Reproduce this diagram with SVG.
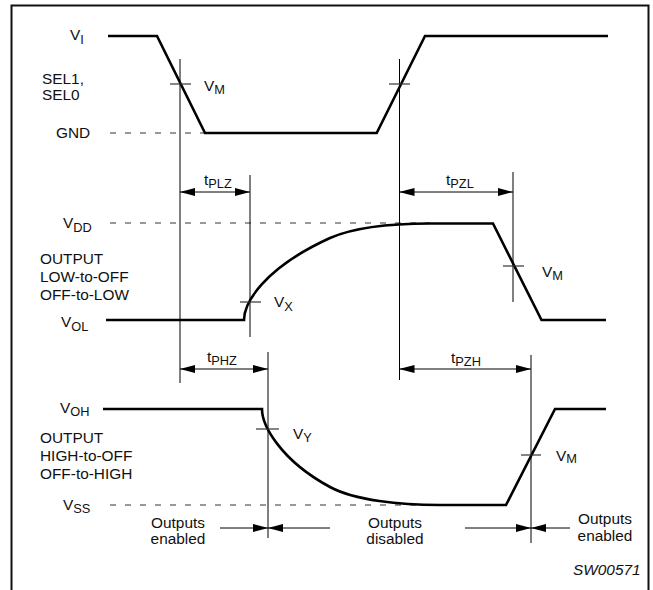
<svg xmlns="http://www.w3.org/2000/svg" width="653" height="590" viewBox="0 0 653 590">
<defs>
<marker id="ah" viewBox="0 0 15 8" refX="15" refY="4" markerWidth="15" markerHeight="8" markerUnits="userSpaceOnUse" orient="auto-start-reverse">
<path d="M0,0 L15,4 L0,8 Z" fill="#000"/>
</marker>
</defs>
<style>
text{font-family:"Liberation Sans",Arial,sans-serif;font-size:15.4px;fill:#111}
.sub{font-size:12.8px}
.wave{fill:none;stroke:#000;stroke-width:2.6;stroke-linejoin:miter}
.thin{fill:none;stroke:#000;stroke-width:1}
.tick{fill:none;stroke:#333;stroke-width:1.2}
.dash{fill:none;stroke:#333;stroke-width:1;stroke-dasharray:6 9}
.dim{fill:none;stroke:#000;stroke-width:1}
</style>
<rect x="11.5" y="5.5" width="637" height="600" fill="#fff" stroke="#111" stroke-width="2"/>

<g id="reference-levels">
<line class="dash" x1="110" y1="133" x2="205" y2="133"/>
<line class="dash" x1="110" y1="223" x2="430" y2="223"/>
<line class="dash" x1="110" y1="505" x2="433" y2="505"/>
</g>

<g id="waveform-input">
<path class="wave" d="M108,36 H157 L205,133 H376.7 L425,36 H608"/>
</g>
<g id="waveform-low">
<path class="wave" d="M106,320 H244 C244,304 262,269 330,238 C355,227 390,223.5 430,223.5 H493 L541.5,320 H606"/>
</g>
<g id="waveform-high">
<path class="wave" d="M103,409 H262 C262,425 280,460 330,487 C355,500.5 400,505 440,505 H506 L555,409 H606"/>
</g>

<g id="connectors">
<line class="thin" x1="180" y1="59" x2="180" y2="383"/>
<line class="thin" x1="399.5" y1="59" x2="399.5" y2="380"/>
<line class="thin" x1="250" y1="175" x2="250" y2="337"/>
<line class="thin" x1="513" y1="172" x2="513" y2="302"/>
<line class="thin" x1="268" y1="352" x2="268" y2="538"/>
<line class="thin" x1="531" y1="355" x2="531" y2="543"/>

<line class="tick" x1="170" y1="84" x2="191" y2="84"/>
<line class="tick" x1="389" y1="84" x2="410" y2="84"/>
<line class="tick" x1="240" y1="302" x2="261" y2="302"/>
<line class="tick" x1="503" y1="266" x2="524" y2="266"/>
<line class="tick" x1="256" y1="429" x2="279" y2="429"/>
<line class="tick" x1="521" y1="455" x2="541" y2="455"/>

<line class="dim" x1="180" y1="192" x2="250" y2="192" marker-start="url(#ah)" marker-end="url(#ah)"/>
<line class="dim" x1="399.5" y1="192" x2="513" y2="192" marker-start="url(#ah)" marker-end="url(#ah)"/>
<line class="dim" x1="180" y1="369" x2="268" y2="369" marker-start="url(#ah)" marker-end="url(#ah)"/>
<line class="dim" x1="399.5" y1="369" x2="531" y2="369" marker-start="url(#ah)" marker-end="url(#ah)"/>

<line class="dim" x1="220" y1="528" x2="268" y2="528" marker-end="url(#ah)"/>
<line class="dim" x1="330" y1="528" x2="268" y2="528" marker-end="url(#ah)"/>
<line class="dim" x1="465" y1="528" x2="531" y2="528" marker-end="url(#ah)"/>
<line class="dim" x1="570" y1="528" x2="531" y2="528" marker-end="url(#ah)"/>
</g>

<g id="labels-input">
<text x="70" y="40">V<tspan class="sub" dy="4">I</tspan></text>
<text x="42" y="84">SEL1,</text>
<text x="42" y="100">SEL0</text>
<text x="56" y="138">GND</text>
<text x="204" y="91">V<tspan class="sub" dy="3">M</tspan></text>
</g>
<g id="labels-timing">
<text x="204" y="185">t<tspan class="sub" dy="3">PLZ</tspan></text>
<text x="446" y="185">t<tspan class="sub" dy="3">PZL</tspan></text>
<text x="207" y="362">t<tspan class="sub" dy="3">PHZ</tspan></text>
<text x="451" y="363">t<tspan class="sub" dy="3">PZH</tspan></text>
</g>
<g id="labels-low">
<text x="63" y="228">V<tspan class="sub" dy="4">DD</tspan></text>
<text x="40" y="264">OUTPUT</text>
<text x="40" y="282">LOW-to-OFF</text>
<text x="40" y="300">OFF-to-LOW</text>
<text x="61" y="327">V<tspan class="sub" dy="4">OL</tspan></text>
<text x="274" y="307">V<tspan class="sub" dy="4">X</tspan></text>
<text x="542" y="277">V<tspan class="sub" dy="3">M</tspan></text>
</g>
<g id="labels-high">
<text x="60" y="413">V<tspan class="sub" dy="3">OH</tspan></text>
<text x="40" y="443">OUTPUT</text>
<text x="40" y="461">HIGH-to-OFF</text>
<text x="40" y="479">OFF-to-HIGH</text>
<text x="293" y="439">V<tspan class="sub" dy="3">Y</tspan></text>
<text x="63" y="510">V<tspan class="sub" dy="3">SS</tspan></text>
<text x="556" y="461">V<tspan class="sub" dy="2">M</tspan></text>
</g>
<g id="labels-state">
<text x="178" y="528" text-anchor="middle">Outputs</text>
<text x="178" y="544" text-anchor="middle">enabled</text>
<text x="395" y="528" text-anchor="middle">Outputs</text>
<text x="395" y="544" text-anchor="middle">disabled</text>
<text x="605" y="524" text-anchor="middle">Outputs</text>
<text x="605" y="541" text-anchor="middle">enabled</text>
<text x="573" y="575" font-style="italic">SW00571</text>
</g>
</svg>
